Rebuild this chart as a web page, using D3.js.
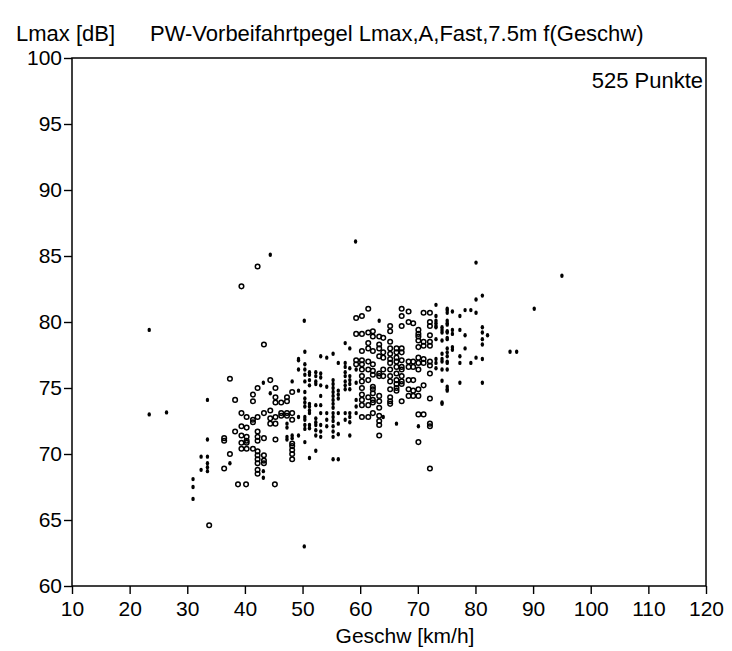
<!DOCTYPE html>
<html>
<head>
<meta charset="utf-8">
<script src="https://cdn.jsdelivr.net/npm/d3@7"></script>
<style>
  body { margin: 0; background: #fff; }
  text { font-family: "Liberation Sans", Arial, sans-serif; fill: #000; }
</style>
</head>
<body>
<div id="chart"></div>
<script>
// axis ticks
const xTicks = [10, 20, 30, 40, 50, 60, 70, 80, 90, 100, 110, 120];
const yTicks = [60, 65, 70, 75, 80, 85, 90, 95, 100];

// open circles, grouped by speed column: [speed, [levels]]
const ringColumns = [
  [33.8, [64.6]],
  [36.4, [71.2, 71.0, 68.9]],
  [37.4, [75.7, 70.0]],
  [38.3, [74.1, 71.7]],
  [38.8, [67.7]],
  [39.4, [82.7, 73.1, 72.1, 71.4, 70.85, 70.4]],
  [40.2, [67.7]],
  [40.3, [72.8, 72.0, 71.3, 71.0, 70.85, 70.4]],
  [41.4, [74.5, 74.0, 72.6, 72.4, 70.4]],
  [42.2, [84.2, 75.0, 72.8, 71.7, 71.3, 71.0, 70.2, 69.9, 69.6, 69.3, 68.8, 68.5]],
  [43.3, [78.3, 73.1, 71.2, 69.9, 69.5, 69.3]],
  [44.4, [75.6, 73.3, 72.7, 72.3]],
  [45.2, [67.7]],
  [45.3, [75.0, 74.3, 73.9, 72.8, 72.3, 71.1]],
  [46.3, [73.9, 73.1, 72.9]],
  [47.3, [74.3, 74.0, 73.1, 72.9]],
  [48.2, [74.7, 73.1, 72.6, 70.8, 70.6, 70.3, 70.0, 69.6]],
  [59.3, [80.3, 79.1, 77.1, 76.8]],
  [60.3, [80.45, 79.1, 77.8, 77.1, 76.8, 76.4, 75.9, 75.5, 75.0, 74.5, 74.1, 73.7, 72.8]],
  [61.4, [81.0, 79.2, 78.4, 78.0, 77.0, 76.4, 75.6, 74.3, 73.7, 72.8]],
  [62.2, [79.3, 78.9, 77.8, 76.8, 76.3, 76.0, 75.1, 74.9, 74.6, 74.1, 73.9, 73.1]],
  [63.3, [78.9, 78.3, 78.0, 77.4, 76.1, 75.9, 74.4, 74.0, 73.5, 72.9, 72.5, 72.2, 71.4]],
  [64.0, [78.8, 77.7, 77.3, 76.4, 75.9]],
  [65.2, [79.7, 79.3, 78.5, 78.0, 77.6, 77.2, 76.9, 76.4, 75.9, 75.5, 74.9, 74.3, 74.0, 73.8]],
  [66.3, [78.0, 77.7, 77.3, 77.0, 76.6, 76.1, 75.6, 75.3, 75.0, 74.8]],
  [67.2, [81.0, 80.45, 79.7, 78.0, 77.7, 77.1, 76.6, 76.4, 75.9, 75.5, 75.3, 74.0]],
  [68.4, [80.8, 80.0, 77.0, 76.6, 75.6, 74.9, 74.4]],
  [69.2, [79.9, 77.0, 76.6, 75.6, 74.8, 74.4]],
  [70.1, [79.4, 79.1, 78.9, 78.6, 78.1, 77.3, 76.9, 76.4, 74.9, 74.4, 73.0, 70.9]],
  [71.0, [80.7, 78.5, 78.2, 77.2, 76.9, 75.2, 73.0]],
  [72.1, [80.7, 80.0, 79.7, 79.0, 78.5, 78.2, 77.0, 76.7, 76.1, 74.2, 72.3, 72.1, 68.9]]
];

// small filled dots, grouped the same way
const dotColumns = [
  [23.4, [79.4, 73.0]],
  [26.4, [73.15]],
  [31.0, [68.1, 67.5, 66.6]],
  [32.4, [69.8, 68.8]],
  [33.5, [74.1, 71.1, 69.8, 69.3, 69.0, 68.7]],
  [37.4, [69.3]],
  [43.2, [75.4, 68.7, 68.2]],
  [44.4, [85.1, 74.6]],
  [47.3, [72.3, 72.0, 71.3, 71.1]],
  [48.2, [75.5, 71.4, 71.2]],
  [49.3, [77.2, 77.1, 76.4, 74.8, 72.8, 71.4]],
  [50.3, [80.1, 63.0]],
  [50.4, [77.75, 76.8, 76.4, 76.0, 75.5, 74.7, 74.2, 73.9, 73.6, 72.8, 72.6, 72.2, 71.9, 70.9]],
  [51.2, [76.2, 76.0, 75.6, 75.2, 73.8, 73.6, 73.3, 73.1, 72.2, 71.95, 69.7]],
  [52.3, [76.2, 75.9, 75.5, 75.3, 73.7, 72.7, 72.4, 72.2, 71.8, 71.4, 70.25]],
  [53.15, [77.4, 76.1, 75.8, 75.2, 74.4, 73.7, 73.1, 72.2, 71.7, 71.3]],
  [54.2, [77.3, 75.1, 73.1, 72.6, 72.1]],
  [55.3, [77.6, 75.6, 75.3, 75.0, 74.7, 74.4, 74.1, 73.8, 73.5, 73.1, 72.8, 72.5, 72.1, 71.7, 71.3, 69.6]],
  [56.2, [76.9, 74.8, 74.5, 74.2, 73.1, 72.3, 71.5, 69.6]],
  [57.4, [78.4, 76.9, 76.6, 76.2, 75.9, 75.5, 75.2, 74.9, 73.1, 72.6]],
  [58.2, [78.0, 76.5, 75.9, 75.6, 75.3, 74.9, 73.1, 72.8, 72.4, 71.4]],
  [59.2, [86.1]],
  [59.3, [76.4, 75.4, 74.1, 73.6, 73.1]],
  [63.3, [80.1]],
  [64.0, [72.8]],
  [66.3, [72.3]],
  [70.1, [72.1]],
  [73.15, [81.3, 80.45, 80.1, 79.9, 79.7, 79.6, 78.7, 77.2, 76.9, 76.5]],
  [74.2, [79.6, 79.4, 79.2, 78.6, 77.6, 77.2, 77.0, 76.4, 75.55, 73.9, 73.8]],
  [75.1, [81.0, 80.9, 80.7, 80.1, 79.9, 79.8, 79.3, 79.2, 78.8, 78.7, 78.0, 77.7, 77.4, 77.0, 76.9, 76.4, 75.1, 74.9, 74.8]],
  [76.0, [80.8, 79.4, 79.1, 78.1, 77.9]],
  [77.3, [80.45, 79.4, 77.4, 76.9, 75.4]],
  [78.2, [80.9, 79.0, 78.0]],
  [79.2, [80.9, 76.9]],
  [80.1, [84.5, 81.7, 80.7, 77.3]],
  [81.2, [82.0, 79.6, 79.2, 78.7, 78.3, 77.2, 75.4]],
  [82.1, [79.0]],
  [86.0, [77.75]],
  [87.15, [77.75]],
  [90.2, [81.0]],
  [95.0, [83.5]]
];

const pointCountLabel = "525 Punkte";

// flatten the columns into point lists
const ringPoints = ringColumns.flatMap(([s, levels]) => levels.map(l => ({ speed: s, level: l })));
const dotPoints = dotColumns.flatMap(([s, levels]) => levels.map(l => ({ speed: s, level: l })));

const W = 732, H = 651;
const plot = { left: 72, right: 706, top: 58, bottom: 586 };

const svg = d3.select("#chart")
  .append("svg")
  .attr("width", W)
  .attr("height", H);

const x = d3.scaleLinear().domain([10, 120]).range([plot.left, plot.right]);
const y = d3.scaleLinear().domain([60, 100]).range([plot.bottom, plot.top]);

// x axis
const xAxis = svg.append("g")
  .attr("transform", `translate(0,${plot.bottom})`)
  .call(d3.axisBottom(x).tickValues(xTicks).tickSize(8).tickPadding(7).tickSizeOuter(0));
xAxis.select(".domain").remove();

// y axis
const yAxis = svg.append("g")
  .attr("transform", `translate(${plot.left},0)`)
  .call(d3.axisLeft(y).tickValues(yTicks).tickSize(8).tickPadding(2).tickSizeOuter(0));
yAxis.select(".domain").remove();

[xAxis, yAxis].forEach(g => {
  g.selectAll(".tick line").attr("stroke", "#000").attr("stroke-width", 1.4);
  g.selectAll(".tick text")
    .style("font-family", '"Liberation Sans", Arial, sans-serif')
    .style("font-size", "21px")
    .attr("fill", "#000");
});

// frame
svg.append("rect")
  .attr("x", x(10))
  .attr("y", y(100))
  .attr("width", x(120) - x(10))
  .attr("height", y(60) - y(100))
  .attr("fill", "none")
  .attr("stroke", "#000")
  .attr("stroke-width", 1.5);

// markers
svg.append("g").selectAll("circle")
  .data(ringPoints)
  .join("circle")
  .attr("cx", d => x(d.speed))
  .attr("cy", d => y(d.level))
  .attr("r", 2.3)
  .attr("fill", "none")
  .attr("stroke", "#000")
  .attr("stroke-width", 1.5);

svg.append("g").selectAll("ellipse")
  .data(dotPoints)
  .join("ellipse")
  .attr("cx", d => x(d.speed))
  .attr("cy", d => y(d.level))
  .attr("rx", 1.7)
  .attr("ry", 2.2)
  .attr("fill", "#000");

// texts
svg.append("text")
  .attr("x", 16).attr("y", 41)
  .style("font-size", "22px")
  .text("Lmax [dB]");

svg.append("text")
  .attr("x", 150).attr("y", 41)
  .style("font-size", "22px")
  .text("PW-Vorbeifahrtpegel Lmax,A,Fast,7.5m f(Geschw)");

svg.append("text")
  .attr("x", plot.right - 3).attr("y", 88)
  .attr("text-anchor", "end")
  .style("font-size", "22px")
  .text(pointCountLabel);

svg.append("text")
  .attr("x", 405).attr("y", 643)
  .attr("text-anchor", "middle")
  .style("font-size", "21px")
  .text("Geschw [km/h]");
</script>
</body>
</html>
